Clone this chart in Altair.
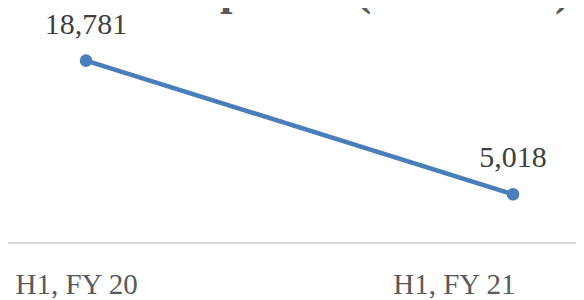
import altair as alt
import pandas as pd

title_text = "Other Expenses  (INR Lacs)"
periods = ["H1, FY 20", "H1, FY 21"]
expenses = [18781, 5018]
labels = ["18,781", "5,018"]

df = pd.DataFrame({"period": periods, "value": expenses, "label": labels})
title_df = pd.DataFrame({"t": [title_text]})

W, H = 568, 235
line_color = "#4A7EBB"
font = "Liberation Serif"

x_enc = alt.X(
    "period:N",
    sort=periods,
    scale=alt.Scale(range=[78, 505], padding=0),
    axis=alt.Axis(
        title=None,
        domain=False,
        ticks=False,
        grid=False,
        labelAngle=0,
        labelFont=font,
        labelFontSize=29,
        labelColor="#595959",
        labelBaseline="alphabetic",
        labelPadding=50,
        labelAlign={"condition": {"test": "datum.value == 'H1, FY 21'", "value": "right"}, "value": "left"},
        labelOffset={"condition": {"test": "datum.value == 'H1, FY 21'", "value": 2}, "value": -71},
        labelFlush=False,
        labelOverlap=False,
        labelLimit=300,
    ),
)
y_enc = alt.Y("value:Q", scale=alt.Scale(domain=[0, 24200]), axis=None)

base = alt.Chart(df)

baseline = base.mark_rule(color="#D9D9D9", strokeWidth=2).encode(
    x=alt.value(0), x2=alt.value(W), y=alt.value(H)
)

line = base.mark_line(color=line_color, strokeWidth=4.5).encode(x=x_enc, y=y_enc)
points = base.mark_point(filled=True, color=line_color, size=160, opacity=1).encode(x=x_enc, y=y_enc)
text = base.mark_text(
    font=font, fontSize=30, color="#404040", baseline="alphabetic", align="center", dy=-27
).encode(x=x_enc, y=y_enc, text="label:N")

title_mark = alt.Chart(title_df).mark_text(
    font=font, fontSize=45, fontWeight="bold", color="#595959",
    baseline="alphabetic", align="center"
).encode(x=alt.value(298), y=alt.value(-3), text="t:N")

chart = (
    alt.layer(baseline, line, points, text, title_mark)
    .properties(
        width=W,
        height=H,
        autosize=alt.AutoSizeParams(type="none"),
        padding={"top": 0, "left": 0, "right": 0, "bottom": 55},
    )
    .configure(background="white")
    .configure_view(strokeWidth=0, stroke="transparent")
)

chart.save("out.html", embed_options={"renderer": "svg", "actions": False})
